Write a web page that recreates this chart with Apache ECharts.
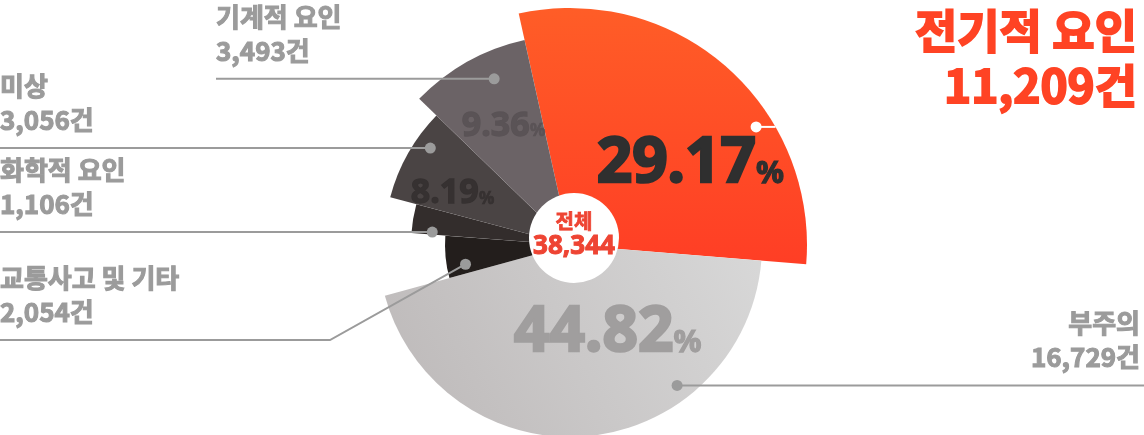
<!DOCTYPE html>
<html><head><meta charset="utf-8">
<script src="https://cdn.jsdelivr.net/npm/echarts@6/dist/echarts.min.js"></script>
<style>html,body{margin:0;padding:0;background:#fff}#c{width:1144px;height:435px}</style>
</head><body><div id="c"></div>
<script>
// ---- data ----
const categories = ['전기적 요인', '부주의', '교통사고 및 기타', '화학적 요인', '미상', '기계적 요인'];
const counts = [11209, 16729, 2054, 1106, 3056, 3493];
const percentLabels = ['29.17', '44.82', '', '', '8.19', '9.36'];
const totalLabel = '38,344';
const totalTitle = '전체';

// ---- style ----
const CX = 570, CY = 245;
const RADII = [237, 192, 125, 159, 186, 210];
const COLORS = [
  {type:'linear',x:0,y:0,x2:0,y2:1,colorStops:[{offset:0,color:'#FF5D27'},{offset:1,color:'#FF3E25'}]},
  {type:'linear',x:0,y:1,x2:1,y2:0,colorStops:[{offset:0,color:'#BCB8B8'},{offset:1,color:'#D8D8D8'}]},
  '#231E1C', '#332D2C', '#4A4444', '#6B6366'
];
const START = 102.5;
const GRAY = '#9B9B9B';
const KFONT = '"Noto Sans CJK KR","Noto Sans",sans-serif';
const NFONT = '"Noto Sans","Noto Sans CJK KR",sans-serif';
// per-slice anchor positions: [t along sweep, radial fraction]
const DOT = [[0.654,0.93],[0.30,0.92],[0.25,0.85],[0.10,0.87],[0.68,0.914],[0.64,0.87]];
const PCT = {0:[0.64,0.61,62,'#2F2F2F'],1:[0.39,0.50,62,'#A09E9E'],4:[0.30,0.69,34,'#363131'],5:[0.50,0.65,34,'#5A5356']};

const chart = echarts.init(document.getElementById('c'), null, {renderer:'canvas'});
const series = categories.map((n, k) => ({
  type:'pie', center:[CX, CY], radius:[0, RADII[k]], startAngle:START, clockwise:true,
  silent:true, animation:false, avoidLabelOverlap:false,
  label:{show:false}, labelLine:{show:false}, emphasis:{disabled:true},
  data: categories.map((name, i) => ({name, value:counts[i],
    itemStyle:{color: i === k ? COLORS[k] : 'rgba(0,0,0,0)', borderWidth:0}}))
}));
chart.setOption({animation:false, series});

const total = counts.reduce((a,b)=>a+b,0);
function geom(k){
  try {
    const L = chart.getModel().getSeriesByIndex(k).getData().getItemLayout(k);
    if (L && isFinite(L.startAngle)) return {cx:L.cx, cy:L.cy, r:L.r, a0:L.startAngle, a1:L.endAngle};
  } catch(e) {}
  let acc = 0; for (let i=0;i<k;i++) acc += counts[i];
  const s = -START*Math.PI/180;
  return {cx:CX, cy:CY, r:RADII[k], a0:s + acc/total*2*Math.PI, a1:s + (acc+counts[k])/total*2*Math.PI};
}
function pt(g, t, rf){ const a = g.a0 + (g.a1-g.a0)*t; return [g.cx + g.r*rf*Math.cos(a), g.cy + g.r*rf*Math.sin(a)]; }

const els = [];
function labelText(x, yBottom, lines, align){
  els.push({type:'text', z:10, style:{text:lines.join('\n'), x, y:yBottom, align, verticalAlign:'bottom',
    fill:GRAY, stroke:GRAY, lineWidth:1.1, font:'bold 26px '+KFONT, lineHeight:34}});
}
const fmt = v => v.toLocaleString('en-US') + '건';
for (let k=0;k<categories.length;k++){
  const g = geom(k);
  const d = pt(g, DOT[k][0], DOT[k][1]);
  const lines = [categories[k], fmt(counts[k])];
  if (k === 0) {
    const xe = g.cx + Math.sqrt(g.r*g.r - (d[1]-g.cy)*(d[1]-g.cy));
    els.push({type:'line', z:10, shape:{x1:d[0], y1:d[1], x2:xe, y2:d[1]}, style:{stroke:'#fff', lineWidth:2}});
    els.push({type:'circle', z:11, shape:{cx:d[0], cy:d[1], r:5.5}, style:{fill:'#fff'}});
    els.push({type:'text', z:10, style:{text:lines.join('\n'), x:1137, y:3, align:'right', verticalAlign:'top',
      fill:'#FF4324', stroke:'#FF4324', lineWidth:2, font:'bold 46px '+KFONT, lineHeight:55}});
    continue;
  }
  let pts, tx, align;
  if (k === 1) { pts = [d, [1144, d[1]]]; tx = 1140; align = 'right'; }
  else if (k === 2) { pts = [d, [330, 340], [0, 340]]; tx = 0; align = 'left'; }
  else if (k === 5) { pts = [d, [216, d[1]]]; tx = 216; align = 'left'; }
  else { pts = [d, [0, d[1]]]; tx = 0; align = 'left'; }
  const ly = pts[pts.length-1][1];
  els.push({type:'polyline', z:10, shape:{points:pts}, style:{stroke:GRAY, lineWidth:2, fill:null}});
  els.push({type:'circle', z:11, shape:{cx:d[0], cy:d[1], r:5.5}, style:{fill:GRAY}});
  labelText(tx, ly - 11, lines, align);
}
// percentage labels
Object.keys(PCT).forEach(key => {
  const k = +key, p = PCT[k], g = geom(k);
  const c = pt(g, p[0], p[1]);
  const fs = p[2];
  const numW = fs * 0.56 * (percentLabels[k].length - 1) + fs*0.27;
  const pW = fs*0.5;
  const x0 = c[0] - (numW + pW)/2;
  const sw = fs > 50 ? 2.5 : 1.3;
  els.push({type:'text', z:9, style:{text:percentLabels[k], x:x0, y:c[1], align:'left', verticalAlign:'middle',
    fill:p[3], stroke:p[3], lineWidth:sw, font:'bold '+fs+'px '+NFONT}});
  els.push({type:'text', z:9, style:{text:'%', x:x0+numW+fs*0.06, y:c[1]+fs*0.16, align:'left', verticalAlign:'middle',
    fill:p[3], stroke:p[3], lineWidth:sw*0.5, font:'bold '+Math.round(fs*0.5)+'px '+NFONT}});
});
// center total
els.push({type:'circle', z:12, shape:{cx:574, cy:238, r:45}, style:{fill:'#fff'}});
els.push({type:'text', z:13, style:{text:totalTitle, x:574, y:221, align:'center', verticalAlign:'middle',
  fill:'#EE4433', stroke:'#EE4433', lineWidth:0.8, font:'bold 20px '+KFONT}});
els.push({type:'text', z:13, style:{text:totalLabel, x:574, y:247, align:'center', verticalAlign:'middle',
  fill:'#EE4433', stroke:'#EE4433', lineWidth:1, font:'bold 26px '+NFONT}});
chart.setOption({graphic:{elements:els}});
</script></body></html>
